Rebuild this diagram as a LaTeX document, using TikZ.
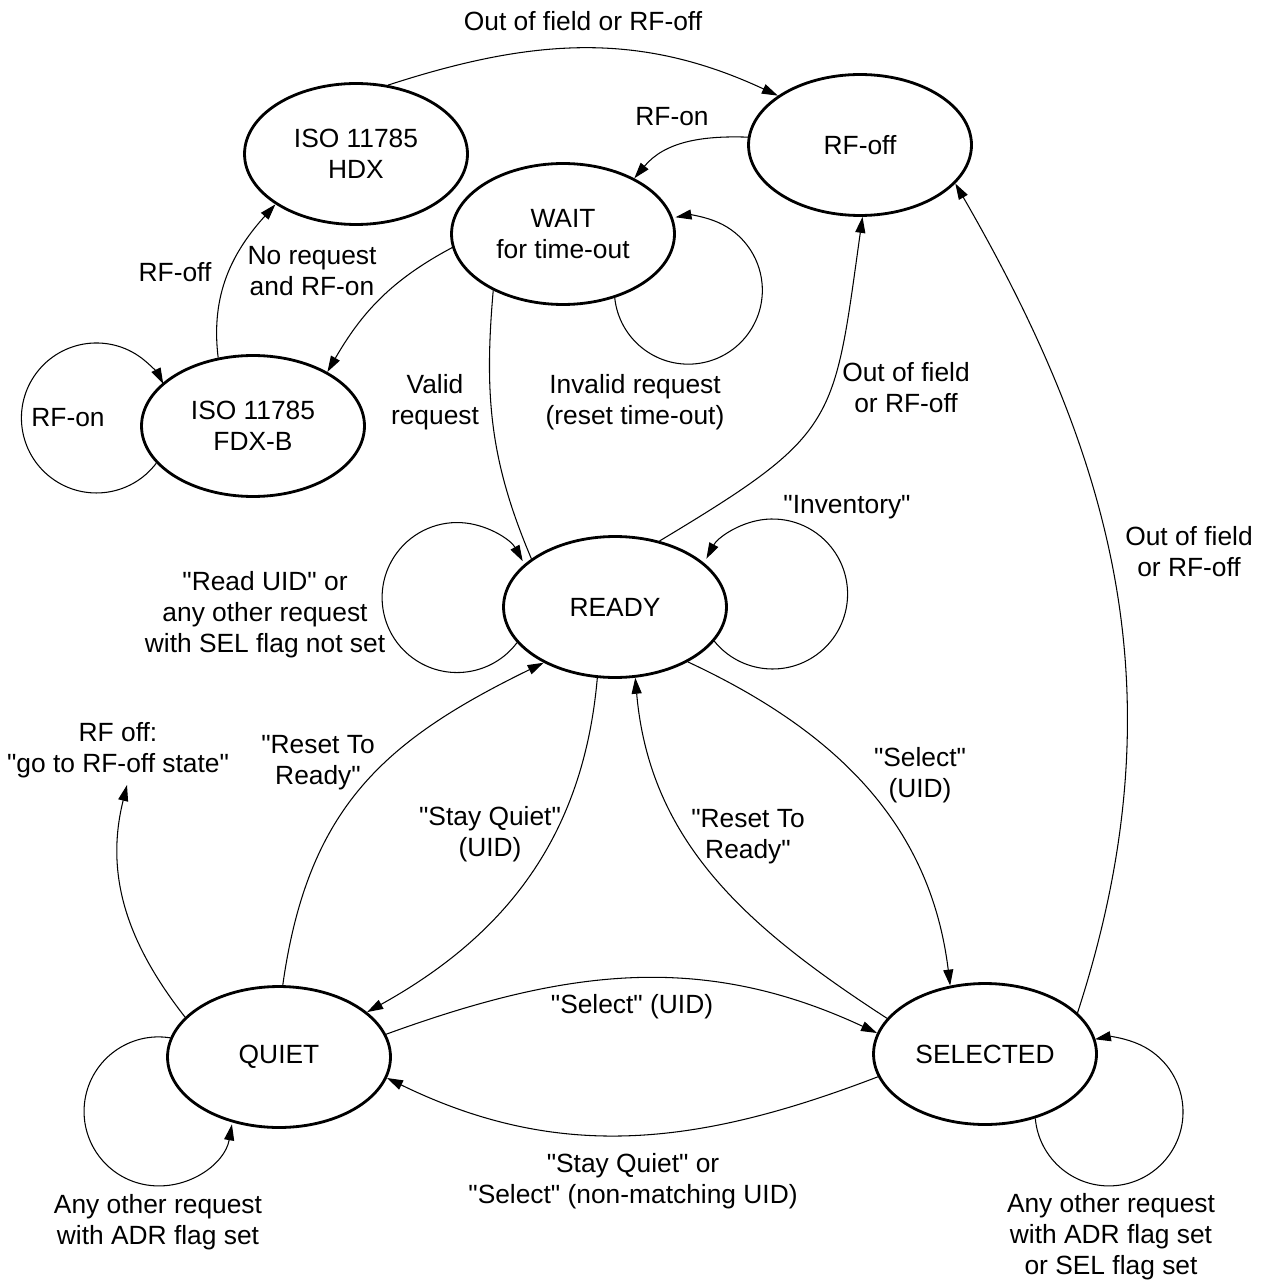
\documentclass[tikz,border=0pt]{standalone}
\usepackage{fontspec}
\setmainfont{Liberation Sans}[Ligatures=TeXOff]
\usetikzlibrary{arrows.meta}
\usetikzlibrary{shapes.geometric}

\begin{document}
\begin{tikzpicture}
[x=0.02cm,y=0.02cm,
  statedecorate/.style={shape=ellipse,draw,line width=1.6pt,inner sep=0pt,
    minimum width=4.46cm,minimum height=2.82cm,align=center},%
  linedecorate/.style={line width=0.6pt},%
  arrowdecorate/.style={linedecorate,-{Triangle[length=0.32cm,width=0.2cm]}},%
  labeldecorate/.style={align=center,inner sep=0pt},%
  every node/.style={font=\fontsize{15}{17.6}\selectfont}]
\useasboundingbox (0,0) rectangle (1260,-1283);
%% states
\foreach \nodename/\x/\y/\nodetext in {hdx/356/154/{ISO 11785\\HDX},
  rfoff/860/145/{RF-off}, wait/563/234/{WAIT\\for time-out},
  fdxb/253/426/{ISO 11785\\FDX-B}, ready/615/607/{READY},
  quiet/279/1057/{QUIET}, selected/985/1054/{SELECTED}}
{
  \node (\nodename) at (\x,-\y) [statedecorate] {\nodetext};
}
%% labels
\foreach \labelname/\x/\y/\labeltext in {
  lhdxoff/583/21/{Out of field or RF-off}, lrfon/672/117/{RF-on},
  lnoreq/312/271/{No request\\and RF-on}, lrfoff/175/272/{RF-off},
  lfdxon/68/418/{RF-on}, lvalid/435/402/{Valid\\request},
  linvalid/635/402/{Invalid request\\(reset time-out)},
  lreadyoff/906/388/{Out of field\\or RF-off},
  linventory/847/507/{"Inventory"},
  lreaduid/265/615/{"Read UID" or\\any other request\\with SEL flag not set},
  lrfnote/118/750/{RF off:\\"go to RF-off state"},
  lresetq/318/763/{"Reset To\\Ready"}, lstayq/490/834/{"Stay Quiet"\\(UID)},
  lselect/920/775/{"Select"\\(UID)}, lresets/748/837/{"Reset To\\Ready"},
  lseloff/1189/552/{Out of field\\or RF-off},
  lselquiet/632/1007/{"Select" (UID)},
  lstayor/633/1181/{"Stay Quiet" or\\"Select" (non-matching UID)},
  lquietloop/158/1222/{Any other request\\with ADR flag set},
  lselloop/1111/1237/{Any other request\\with ADR flag set\\or SEL flag set}}
{
  \node (\labelname) at (\x,-\y) [labeldecorate] {\labeltext};
}
\coordinate (rfofftip) at (127,-785);
%% transitions
\foreach \startnode/\startangle/\endnode/\endangle/\outangle/\inangle/\loose in {
  hdx/65/rfoff/149/18/155/1, rfoff/176/wait/38/178/50/1,
  wait/187/fdxb/36/208/60/1, fdxb/117/hdx/212/97/228/1,
  ready/56/rfoff/-88/31/262/1.4, ready/256/quiet/27/265/29/1,
  quiet/87/ready/218/82/206/1.1, quiet/12/selected/169/20/155/1,
  selected/192/quiet/-11/201/-26/1, ready/-37/selected/117/-25/97/1,
  selected/160/ready/-74/147/275/1, selected/24/rfoff/-22/72/300/1}
{
  \draw[arrowdecorate] (\startnode.\startangle)
    to[out=\outangle,in=\inangle,looseness=\loose] (\endnode.\endangle);
}
\draw[linedecorate] (wait.219) to[out=265,in=113] (ready.150);
\draw[arrowdecorate] (quiet.157) to[out=128,in=256] (rfofftip);
%% self loops
\draw[arrowdecorate] (wait.-51) arc[start angle=-174,end angle=100,radius=74];
\draw[arrowdecorate] (selected.-52) arc[start angle=-175,end angle=101,radius=74];
\draw[arrowdecorate] (fdxb.201) arc[start angle=-37,end angle=-333,radius=75];
\draw[arrowdecorate] (ready.200) arc[start angle=-37,end angle=-331,radius=75];
\draw[arrowdecorate] (ready.-19) arc[start angle=-141,end angle=152,radius=75];
\draw[arrowdecorate] (quiet.170) arc[start angle=81,end angle=350,radius=74.5];
\end{tikzpicture}
\end{document}
